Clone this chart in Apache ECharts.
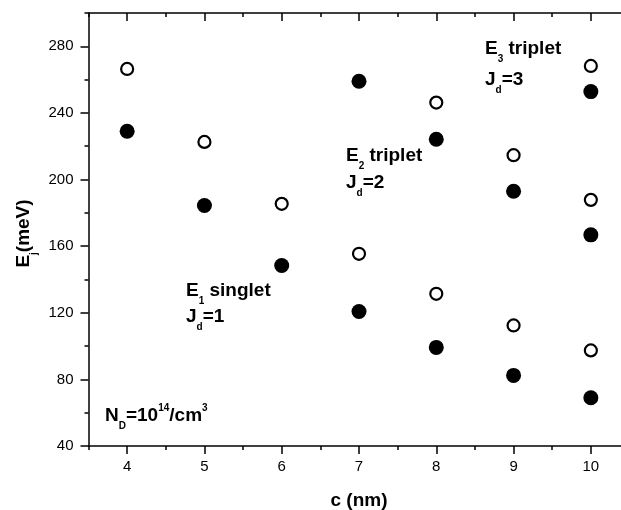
<!DOCTYPE html>
<html>
<head>
<meta charset="utf-8">
<script src="https://cdn.jsdelivr.net/npm/echarts@6/dist/echarts.min.js"></script>
<style>html,body{margin:0;padding:0;background:#fff}#c{width:621px;height:510px}</style>
</head>
<body>
<div id="c"></div>
<script>
// ---- data ----
const cE1 = [4, 5, 6, 7, 8, 9, 10];
const e1Open = [266.4, 222.6, 185.4, 155.4, 131.4, 112.4, 97.4];
const e1Filled = [229, 184.4, 148.4, 120.8, 99.2, 82.4, 69];
const cE2Open = [8, 9, 10];
const e2Open = [246.2, 214.6, 187.8];
const cE2Filled = [7, 8, 9, 10];
const e2Filled = [259, 224.2, 193, 166.8];
const cE3 = [10];
const e3Open = [268.2];
const e3Filled = [252.8];

const xMajorTicks = [4, 5, 6, 7, 8, 9, 10];
const xMinorTicks = [3.5, 4.5, 5.5, 6.5, 7.5, 8.5, 9.5, 10.5];
const yMajorTicks = [40, 80, 120, 160, 200, 240, 280];
const yMinorTicks = [60, 100, 140, 180, 220, 260, 300];

const FONT = '"Liberation Sans", Arial, Helvetica, sans-serif';

function pairs(xs, ys) { return xs.map((x, i) => [x, ys[i]]); }
const openData = pairs(cE1, e1Open).concat(pairs(cE2Open, e2Open), pairs(cE3, e3Open));
const filledData = pairs(cE1, e1Filled).concat(pairs(cE2Filled, e2Filled), pairs(cE3, e3Filled));

const lineW = 1.5;
function axis(kind, pos, ticks, len, inside, showLine, showLabel) {
  const a = {
    type: 'value', position: pos,
    axisLine: { show: showLine, onZero: false, lineStyle: { color: '#000', width: lineW } },
    axisTick: { show: true, inside: inside, length: len, customValues: ticks, lineStyle: { color: '#000', width: lineW } },
    axisLabel: { show: showLabel, customValues: ticks, color: '#000', fontSize: 15, fontFamily: FONT, margin: kind === 'x' ? 13 : 15 },
    splitLine: { show: false }
  };
  if (kind === 'x') { a.min = 3.5; a.max = 10.5; } else { a.min = 40; a.max = 300; }
  return a;
}

const xAxes = [
  axis('x', 'bottom', xMajorTicks, 8, false, true, true),
  axis('x', 'bottom', xMinorTicks, 4, false, false, false),
  axis('x', 'top', xMajorTicks, 8, true, true, false),
  axis('x', 'top', xMinorTicks, 4, true, false, false)
];
xAxes[0].name = 'c (nm)';
xAxes[0].nameLocation = 'middle';
xAxes[0].nameGap = 45;
xAxes[0].nameTextStyle = { color: '#000', fontSize: 19, fontWeight: 'bold', fontFamily: FONT };

const yAxes = [
  axis('y', 'left', yMajorTicks, 8, false, true, true),
  axis('y', 'left', yMinorTicks, 4, false, false, false),
  axis('y', 'right', yMajorTicks, 8, true, true, false),
  axis('y', 'right', yMinorTicks, 4, true, false, false)
];

// main text centred on the line; subscripts pushed down / superscripts pushed up by padding
const rich = {
  m: { fontSize: 19, fontWeight: 'bold', fontFamily: FONT, color: '#000', lineHeight: 40 },
  s: { fontSize: 10, fontWeight: 'bold', fontFamily: FONT, color: '#000', lineHeight: 10, padding: [21, 0, 0, 0] },
  p: { fontSize: 10, fontWeight: 'bold', fontFamily: FONT, color: '#000', lineHeight: 10, padding: [0, 0, 16, 0] }
};
// y is the vertical centre of the capital letters
function label(x, y, text) {
  return { type: 'text', x: x, y: y, style: { text: text, rich: rich, align: 'left', verticalAlign: 'middle' }, z: 10 };
}

const chart = echarts.init(document.getElementById('c'), null, { renderer: 'canvas' });
chart.setOption({
  animation: false,
  backgroundColor: '#fff',
  grid: { left: 88.5, top: 13, width: 541, height: 433, containLabel: false, outerBoundsMode: 'none' },
  xAxis: xAxes,
  yAxis: yAxes,
  series: [
    { type: 'scatter', name: 'open', data: openData, symbol: 'circle', symbolSize: 12,
      itemStyle: { color: '#fff', borderColor: '#000', borderWidth: 2.2, opacity: 1 } },
    { type: 'scatter', name: 'filled', data: filledData, symbol: 'circle', symbolSize: 15,
      itemStyle: { color: '#000', opacity: 1 } }
  ],
  graphic: [
    label(186, 291, '{m|E}{s|1}{m| singlet}'),
    label(186, 317, '{m|J}{s|d}{m|=1}'),
    label(346, 156, '{m|E}{s|2}{m| triplet}'),
    label(346, 183, '{m|J}{s|d}{m|=2}'),
    label(485, 49, '{m|E}{s|3}{m| triplet}'),
    label(485, 80, '{m|J}{s|d}{m|=3}'),
    label(105, 416, '{m|N}{s|D}{m|=10}{p|14}{m|/cm}{p|3}'),
    { type: 'text', x: 24, y: 233.5, rotation: Math.PI / 2,
      style: { text: '{m|E}{s|j}{m|(meV)}', rich: rich, align: 'center', verticalAlign: 'middle' }, z: 10 }
  ]
});
</script>
</body>
</html>
